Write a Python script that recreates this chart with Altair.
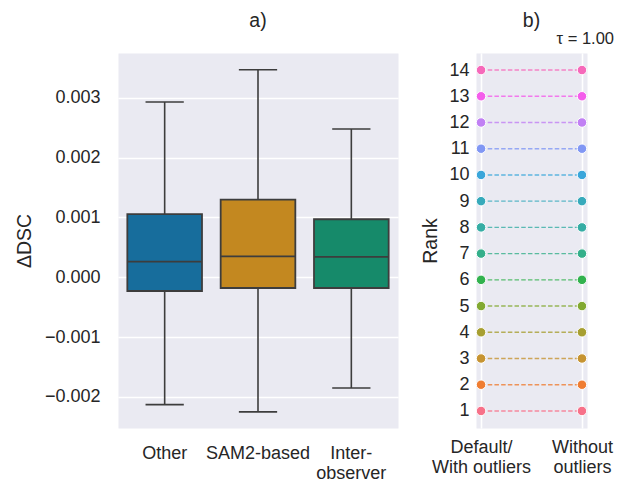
import math
import numpy as np
import pandas as pd
import altair as alt

# ---------------- data ----------------
groups = ["Other", "SAM2-based", "Inter-\nobserver"]
whisk_low = [-0.00213, -0.00225, -0.00185]
q1 = [-0.000229, -0.000179, -0.000179]
median = [0.000262, 0.000351, 0.000340]
q3 = [0.001055, 0.00130, 0.00097]
whisk_high = [0.00293, 0.00347, 0.00248]
box_colors = ["#176d9c", "#c38820", "#168a6a"]

conditions = ["Default/\nWith outliers", "Without\noutliers"]
ranks_default = list(range(1, 15))
ranks_without = list(range(1, 15))
tau_text = "τ = 1.00"

# ---------------- husl palette (seaborn husl_palette(14)) ----------------
_m = [[3.2406, -1.5372, -0.4986], [-0.9689, 1.8758, 0.0415], [0.0557, -0.2040, 1.0570]]
_refU, _refV, _kappa, _eps = 0.19784, 0.46834, 903.2962962, 0.0088564516


def _max_chroma(L, H):
    hrad = math.radians(H)
    sinH, cosH = math.sin(hrad), math.cos(hrad)
    sub1 = (L + 16) ** 3 / 1560896.0
    sub2 = sub1 if sub1 > 0.008856 else L / 903.3
    res = float("inf")
    for m1, m2, m3 in _m:
        top = (0.99915 * m1 + 1.05122 * m2 + 1.14460 * m3) * sub2
        rb = 0.86330 * m3 - 0.17266 * m2
        lb = 0.12949 * m3 - 0.38848 * m1
        bottom = (rb * sinH + lb * cosH) * sub2
        for t in (0.0, 1.0):
            C = L * (top - 1.05122 * t) / (bottom + 0.17266 * sinH * t)
            if 0 < C < res:
                res = C
    return res


def _husl_to_hex(h, s, l):
    C = _max_chroma(l, h) / 100.0 * s
    U, V = C * math.cos(math.radians(h)), C * math.sin(math.radians(h))
    t = (l + 16.0) / 116.0
    varY = t ** 3 if t ** 3 > _eps else (116 * t - 16) / _kappa
    varU = U / (13.0 * l) + _refU
    varV = V / (13.0 * l) + _refV
    Y = varY
    X = -(9.0 * Y * varU) / ((varU - 4.0) * varV - varU * varV)
    Z = (9.0 * Y - 15.0 * varV * Y - varV * X) / (3.0 * varV)
    out = []
    for row in _m:
        c = row[0] * X + row[1] * Y + row[2] * Z
        c = 12.92 * c if c <= 0.0031308 else 1.055 * c ** (1 / 2.4) - 0.055
        out.append(min(1.0, max(0.0, c)))
    return "#" + "".join(f"{int(round(v * 255)):02x}" for v in out)


_hues = (np.linspace(0, 1, 15)[:-1] + 0.01) % 1 * 359
rank_colors = [_husl_to_hex(h, 0.9 * 99, 0.65 * 99) for h in _hues]

# ---------------- styling constants ----------------
FONT = "Liberation Sans"
TXT = "#262626"
EDGE = "#3d3d3d"
LW = 280
LH = 375
RW = 111
band = LW / len(groups)

box_df = pd.DataFrame({
    "group": groups, "low": whisk_low, "q1": q1, "med": median,
    "q3": q3, "high": whisk_high,
})

xenc = alt.X("group:N", sort=groups,
             scale=alt.Scale(type="band", paddingInner=0, paddingOuter=0),
             axis=alt.Axis(title=None, labelAngle=0, labelExpr="split(datum.label, '\\n')",
                           labelPadding=16, grid=False, labelLineHeight=20))
yscale = alt.Scale(domain=[-0.00252, 0.00375], nice=False, zero=False)
yaxis = alt.Axis(title="ΔDSC", values=[-0.002, -0.001, 0, 0.001, 0.002, 0.003],
                 format=".3f", labelPadding=18, titlePadding=10, grid=True)

base = alt.Chart(box_df)
whisk = base.mark_rule(color=EDGE, strokeWidth=1.6).encode(
    x=xenc, y=alt.Y("low:Q", scale=yscale, axis=yaxis), y2="high:Q")
box = base.mark_bar(width=alt.RelativeBandSize(0.8), stroke=EDGE, strokeWidth=1.8, opacity=1).encode(
    x=xenc, y=alt.Y("q1:Q", scale=yscale, axis=yaxis), y2="q3:Q",
    color=alt.Color("group:N", scale=alt.Scale(domain=groups, range=box_colors), legend=None))
med_t = base.mark_tick(color=EDGE, size=0.8 * band, thickness=1.8, opacity=1).encode(
    x=xenc, y=alt.Y("med:Q", scale=yscale, axis=yaxis))
cap_lo = base.mark_tick(color=EDGE, size=0.41 * band, thickness=1.6, opacity=1).encode(
    x=xenc, y=alt.Y("low:Q", scale=yscale, axis=yaxis))
cap_hi = base.mark_tick(color=EDGE, size=0.41 * band, thickness=1.6, opacity=1).encode(
    x=xenc, y=alt.Y("high:Q", scale=yscale, axis=yaxis))
title_a = alt.Chart(pd.DataFrame({"t": ["a)"]})).mark_text(
    font=FONT, fontSize=19.5, color=TXT, align="center", baseline="alphabetic").encode(
    text="t:N", x=alt.value(LW / 2), y=alt.value(-26.5))

left = alt.layer(whisk, box, med_t, cap_lo, cap_hi, title_a).properties(width=LW, height=LH)

# ---------------- right panel ----------------
rank_df = pd.DataFrame({
    "cond": [conditions[0]] * len(ranks_default) + [conditions[1]] * len(ranks_without),
    "rank": ranks_default + ranks_without,
    "series": ranks_default + ranks_default,
})
rx = alt.X("cond:N", sort=conditions, scale=alt.Scale(type="point", padding=0.05),
           axis=alt.Axis(title=None, labelAngle=0, labelExpr="split(datum.label, '\\n')",
                         labelPadding=10, grid=True, labelLineHeight=20))
ry = alt.Y("rank:Q", scale=alt.Scale(domain=[0.35, 14.65], nice=False, zero=False),
           axis=alt.Axis(title="Rank", values=list(range(1, 15)), format="d", grid=False,
                         labelPadding=7, titlePadding=8))
rcol = alt.Color("series:O", scale=alt.Scale(domain=ranks_default, range=rank_colors), legend=None)
rbase = alt.Chart(rank_df)
lines = rbase.mark_line(strokeDash=[4.5, 2.2], strokeWidth=1.4, opacity=0.8).encode(
    x=rx, y=ry, color=rcol, detail="series:O")
dots = rbase.mark_circle(size=90, opacity=1, stroke="white", strokeWidth=1).encode(
    x=rx, y=ry, color=rcol)
title_b = alt.Chart(pd.DataFrame({"t": ["b)"]})).mark_text(
    font=FONT, fontSize=19.5, color=TXT, align="center", baseline="alphabetic").encode(
    text="t:N", x=alt.value(RW / 2), y=alt.value(-26.5))
tau = alt.Chart(pd.DataFrame({"t": [tau_text]})).mark_text(
    font=FONT, fontSize=16.5, color=TXT, align="right", baseline="alphabetic").encode(
    text="t:N", x=alt.value(138), y=alt.value(-9))
right = alt.layer(lines, dots, title_b, tau).properties(width=RW, height=LH)

chart = alt.hconcat(left, right, spacing=21).resolve_scale(
    color="independent", x="independent", y="independent"
).properties(
    padding={"left": 5, "top": 2, "right": 5, "bottom": 5}
).configure_view(
    fill="#eaeaf2", stroke="transparent"
).configure_axis(
    labelFont=FONT, titleFont=FONT, labelFontSize=18, titleFontSize=19.5,
    labelColor=TXT, titleColor=TXT, titleFontWeight="normal",
    domain=False, ticks=False, gridColor="white", gridWidth=1.6, gridOpacity=1,
)

chart.save("out.html", embed_options={"renderer": "svg", "actions": False})
